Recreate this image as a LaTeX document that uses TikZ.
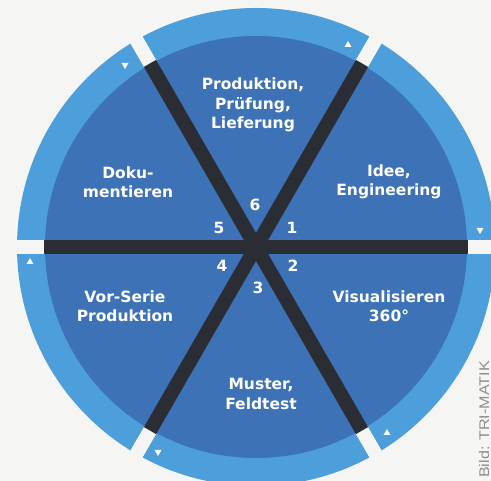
\documentclass[tikz,border=0pt]{standalone}
\usepackage{fontspec}
\setmainfont{DejaVu Sans}
\newfontfamily\credfont{Liberation Sans}
\usetikzlibrary{shapes.geometric}
\definecolor{ringblue}{HTML}{4C9FDA}
\definecolor{diskblue}{HTML}{3E72B6}
\definecolor{spokegray}{HTML}{2A2D33}
\definecolor{paper}{HTML}{F5F5F3}
\definecolor{credgray}{HTML}{8E8E8E}
\begin{document}
\begin{tikzpicture}[x=1pt,y=1pt,
  lbl/.style={text=white, font=\bfseries\fontsize{15.5}{19.5}\selectfont, align=center, inner sep=0pt},
  num/.style={text=white, font=\bfseries\fontsize{15.5}{18}\selectfont, inner sep=0pt},
  gapline/.style={draw=paper, line width=14pt},
  spokeline/.style={draw=spokegray, line width=14pt},
  tri/.style={fill=white, draw=none, regular polygon, regular polygon sides=3, minimum size=8pt, inner sep=0pt}]
\useasboundingbox (0,0) rectangle (491,481);
\clip (0,0) rectangle (491,481);
\fill[paper] (0,0) rectangle (491,481);
\coordinate (C) at (256,234);
% outer ring
\fill[ringblue] (C) circle (239);
\foreach \a in {0,60,...,300} {
  \draw[gapline, shift={(C)}] (\a:195) -- (\a:260);
}
% inner disk
\fill[diskblue] (C) circle (211);
% spokes
\foreach \a in {0,60,...,300} {
  \draw[spokeline, shift={(C)}] (0,0) -- (\a:212);
}
% direction triangles on ring
\node[tri] (t1) at (348,436) {};
\node[tri, rotate=180] (t2) at (480,251) {};
\node[tri] (t3) at (387,48) {};
\node[tri, rotate=180] (t4) at (158,29) {};
\node[tri] (t5) at (30,219) {};
\node[tri, rotate=180] (t6) at (125,416) {};
% labels
\node[lbl] (l6) at (253,376) {Produktion,\\Prüfung,\\Lieferung};
\node[lbl] (l1) at (389,299) {Idee,\\Engineering};
\node[lbl] (l5) at (128,299) {Doku-\\mentieren};
\node[lbl] (l4) at (125,175) {Vor-Serie\\Produktion};
\node[lbl] (l2) at (389,175) {Visualisieren\\360°};
\node[lbl] (l3) at (261,87) {Muster,\\Feldtest};
% numbers
\node[num] (n6) at (255,276) {6};
\node[num] (n5) at (219,253) {5};
\node[num] (n1) at (292,253) {1};
\node[num] (n4) at (222,215) {4};
\node[num] (n2) at (293,215) {2};
\node[num] (n3) at (258,193) {3};
% credit
\node[text=credgray, font=\credfont\fontsize{14}{14}\selectfont, rotate=90, anchor=base east, inner sep=0pt] (cred) at (489,120) {\scalebox{1.15}[1]{Bild: TRI-MATIK}};
\end{tikzpicture}
\end{document}
